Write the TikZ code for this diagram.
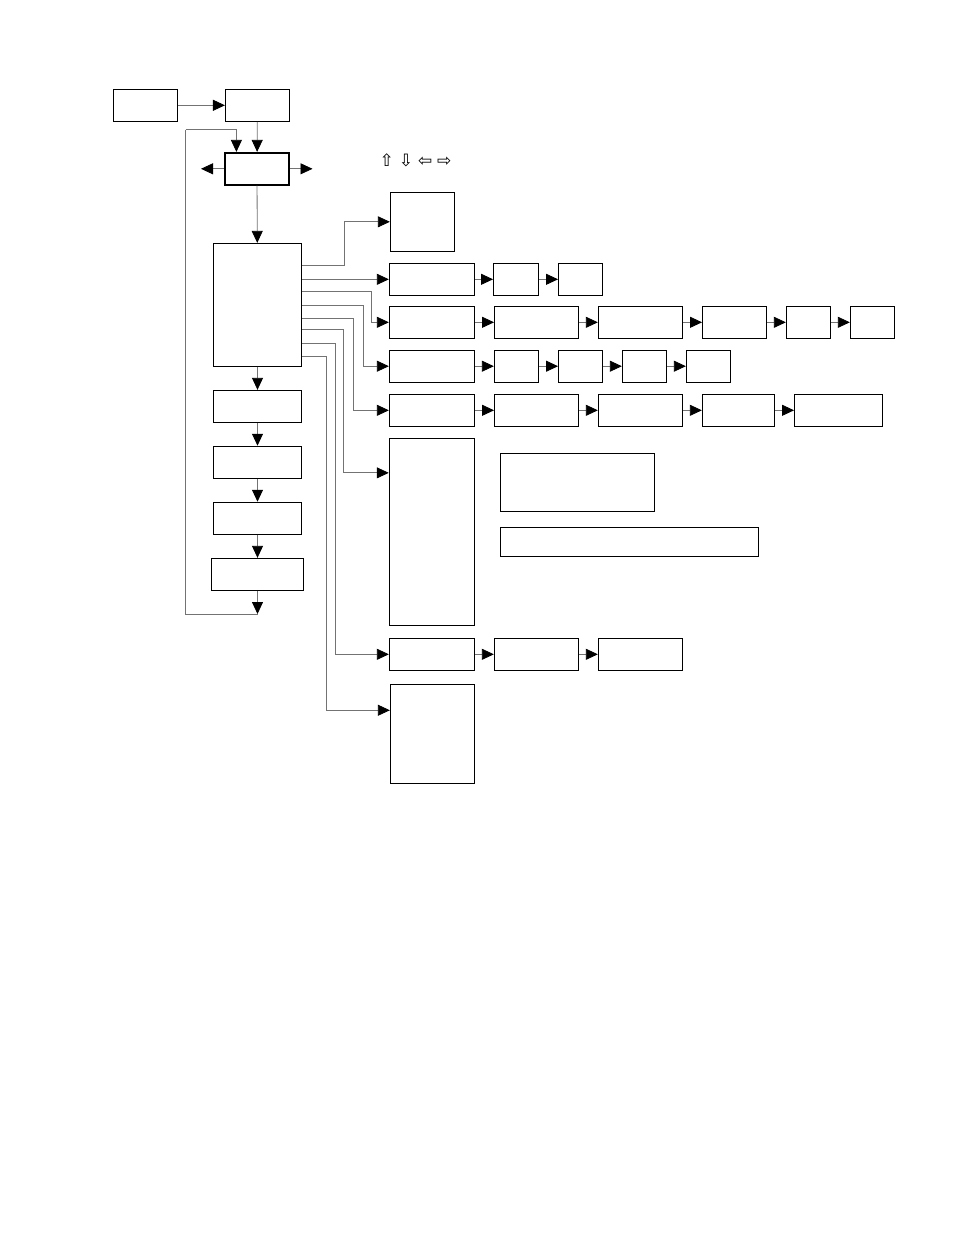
\documentclass[tikz,border=0pt]{standalone}
\usepackage{fontspec}
\newfontfamily\symfont{DejaVu Sans}
\usetikzlibrary{arrows.meta}

\begin{document}
\begin{tikzpicture}[x=1pt, y=-1pt,
    box/.style={draw, line width=0.9pt, inner sep=0pt},
    link/.style={draw=black!55, line width=0.8pt, -{Triangle[length=12pt,width=11pt,color=black]}},
    wire/.style={draw=black!55, line width=0.8pt}]
        \useasboundingbox (0,0) rectangle (954,1235);
        % Nodes (top, main column)
        \node (pwr) at (145.3,105.3) [box, minimum width=64pt, minimum height=32pt] {};
        \node (boot) at (257.4,105.3) [box, minimum width=64pt, minimum height=32pt] {};
        \node (home) at (257,168.8) [box, line width=1.8pt, minimum width=64pt, minimum height=32pt] {};
        \node (menu) at (257.5,304.7) [box, minimum width=88pt, minimum height=122.7pt] {};
        \node (s1) at (257.5,406.3) [box, minimum width=88pt, minimum height=32pt] {};
        \node (s2) at (257.5,462.2) [box, minimum width=88pt, minimum height=32pt] {};
        \node (s3) at (257.5,518.2) [box, minimum width=88pt, minimum height=32pt] {};
        \node (s4) at (257.5,574.3) [box, minimum width=92pt, minimum height=32pt] {};
        \node (keys) at (415.5,160.5) [inner sep=0pt, font=\symfont\fontsize{17}{17}\selectfont] {⇧\hspace{5pt}⇩\hspace{5pt}⇦\hspace{5pt}⇨};
        \coordinate (lft) at (201,168.8);
        \coordinate (rgt) at (312.5,168.8);
        \coordinate (ret) at (257.5,614);
        \coordinate (loop) at (185.5,129.7);
        % Nodes (branches)
        \node (r1) at (422.3,221.8) [box, minimum width=64pt, minimum height=59pt] {};
        \node (r2a) at (431.8,279.3) [box, minimum width=85pt, minimum height=32pt] {};
        \node (r2b) at (516,279.3) [box, minimum width=45pt, minimum height=32pt] {};
        \node (r2c) at (580.5,279.3) [box, minimum width=44pt, minimum height=32pt] {};
        \node (r3a) at (431.8,322.3) [box, minimum width=85pt, minimum height=32pt] {};
        \node (r3b) at (536.5,322.3) [box, minimum width=84pt, minimum height=32pt] {};
        \node (r3c) at (640.3,322.3) [box, minimum width=84pt, minimum height=32pt] {};
        \node (r3d) at (734.5,322.3) [box, minimum width=64pt, minimum height=32pt] {};
        \node (r3e) at (808.3,322.3) [box, minimum width=44pt, minimum height=32pt] {};
        \node (r3f) at (872.3,322.3) [box, minimum width=44pt, minimum height=32pt] {};
        \node (r4a) at (431.8,366.2) [box, minimum width=85pt, minimum height=32pt] {};
        \node (r4b) at (516.3,366.2) [box, minimum width=44pt, minimum height=32pt] {};
        \node (r4c) at (580.5,366.2) [box, minimum width=44pt, minimum height=32pt] {};
        \node (r4d) at (644.3,366.2) [box, minimum width=44pt, minimum height=32pt] {};
        \node (r4e) at (708.3,366.2) [box, minimum width=44pt, minimum height=32pt] {};
        \node (r5a) at (431.8,410.3) [box, minimum width=85pt, minimum height=32pt] {};
        \node (r5b) at (536.5,410.3) [box, minimum width=84pt, minimum height=32pt] {};
        \node (r5c) at (640.3,410.3) [box, minimum width=84pt, minimum height=32pt] {};
        \node (r5d) at (738.3,410.3) [box, minimum width=72pt, minimum height=32pt] {};
        \node (r5e) at (838.5,410.3) [box, minimum width=88pt, minimum height=32pt] {};
        \node (t1) at (431.7,531.8) [box, minimum width=85pt, minimum height=187pt] {};
        \node (n1) at (577.3,482.2) [box, minimum width=154pt, minimum height=57.7pt] {};
        \node (n2) at (629.3,541.8) [box, minimum width=258pt, minimum height=29pt] {};
        \node (r7a) at (431.8,654.3) [box, minimum width=85pt, minimum height=32pt] {};
        \node (r7b) at (536.3,654.3) [box, minimum width=84pt, minimum height=32pt] {};
        \node (r7c) at (640.3,654.3) [box, minimum width=84pt, minimum height=32pt] {};
        \node (t2) at (432.3,733.8) [box, minimum width=84pt, minimum height=99pt] {};
        % Edges (main column)
        \draw[link] (pwr) -- (boot);
        \draw[link] (boot) -- (home);
        \draw[link] (home) -- (lft);
        \draw[link] (home) -- (rgt);
        \draw[link] (home) -- (menu);
        \draw[link] (menu) -- (s1);
        \draw[link] (s1) -- (s2);
        \draw[link] (s2) -- (s3);
        \draw[link] (s3) -- (s4);
        \draw[link] (s4) -- (ret);
        \draw[wire] (ret) -| (loop);
        \draw[link] (loop) -| ([xshift=12.3pt]home.north west);
        % Edges (branches)
        \draw[link] ([yshift=-22.4pt]menu.north east) -| ([xshift=-45.6pt]r1.west) -- (r1.west);
        \draw[link] (menu.east |- r2a.west) -- (r2a.west);
        \draw[link] ([yshift=-48pt]menu.north east) -| ([xshift=-17.3pt]r3a.west) -- (r3a.west);
        \draw[link] ([yshift=-62.4pt]menu.north east) -| ([xshift=-25.7pt]r4a.west) -- (r4a.west);
        \draw[link] ([yshift=-75pt]menu.north east) -| ([xshift=-35pt]r5a.west) -- (r5a.west);
        \draw[link] ([yshift=-86.7pt]menu.north east) -| ([xshift=-45pt,yshift=-35pt]t1.north west) -- ([yshift=-35pt]t1.north west);
        \draw[link] ([yshift=-100pt]menu.north east) -| ([xshift=-53.5pt]r7a.west) -- (r7a.west);
        \draw[link] ([yshift=-113pt]menu.north east) -| ([xshift=-63.3pt,yshift=-26.4pt]t2.north west) -- ([yshift=-26.4pt]t2.north west);
        \draw[link] (r2a) -- (r2b);
        \draw[link] (r2b) -- (r2c);
        \draw[link] (r3a) -- (r3b);
        \draw[link] (r3b) -- (r3c);
        \draw[link] (r3c) -- (r3d);
        \draw[link] (r3d) -- (r3e);
        \draw[link] (r3e) -- (r3f);
        \draw[link] (r4a) -- (r4b);
        \draw[link] (r4b) -- (r4c);
        \draw[link] (r4c) -- (r4d);
        \draw[link] (r4d) -- (r4e);
        \draw[link] (r5a) -- (r5b);
        \draw[link] (r5b) -- (r5c);
        \draw[link] (r5c) -- (r5d);
        \draw[link] (r5d) -- (r5e);
        \draw[link] (r7a) -- (r7b);
        \draw[link] (r7b) -- (r7c);
      \end{tikzpicture}
\end{document}
